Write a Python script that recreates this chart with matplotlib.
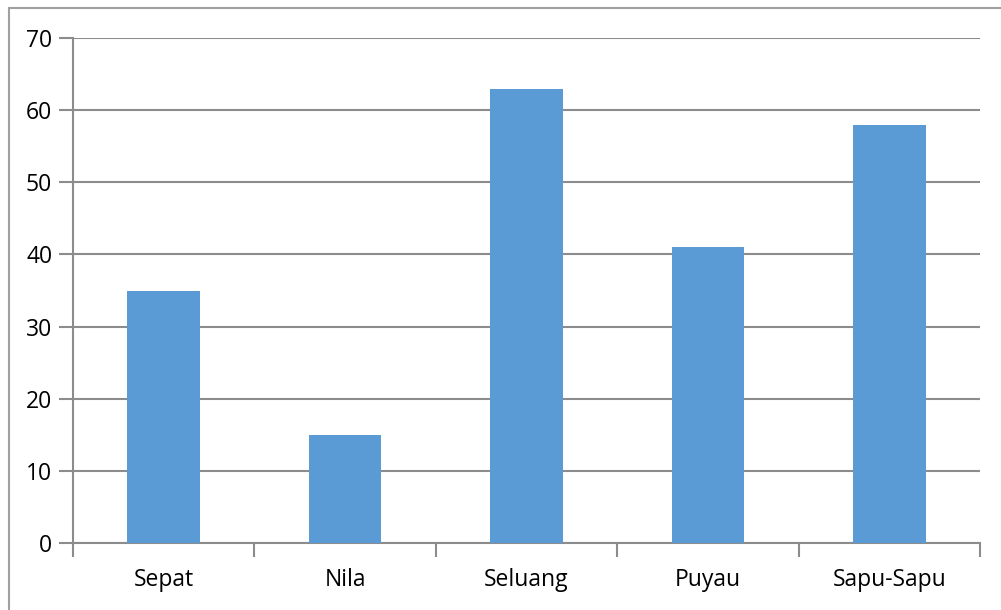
import matplotlib.pyplot as plt
from matplotlib.patches import Rectangle

categories = ["Sepat", "Nila", "Seluang", "Puyau", "Sapu-Sapu"]
values = [35, 15, 63, 41, 58]
yticks = [0, 10, 20, 30, 40, 50, 60, 70]

plt.rcParams['font.family'] = ['Open Sans', 'DejaVu Sans']

W, H = 1001, 610
fig = plt.figure(figsize=(W / 100, H / 100), dpi=100)
ax = fig.add_axes([73 / W, 1 - 543 / H, (980 - 73) / W, (543 - 38) / H])

grey = '#8c8c8c'
# outer chart border (runs off right and bottom edges)
fig.patches.append(Rectangle((9 / W, -0.05), 1.1, 1 - 8 / H + 0.05, transform=fig.transFigure,
                             fill=False, edgecolor='#a0a0a0', linewidth=1.5))

x = range(len(categories))
ax.bar(x, values, width=0.4, color='#5b9bd5', zorder=3)

ax.set_xlim(-0.5, len(categories) - 0.5)
ax.set_ylim(0, 70)
ax.set_yticks(yticks)
ax.set_xticks(list(x))
ax.set_xticklabels(categories)
ax.set_xticks([i - 0.5 for i in range(len(categories) + 1)], minor=True)

ax.grid(axis='y', color=grey, linewidth=1.5, zorder=0)
for s in ['top', 'right']:
    ax.spines[s].set_visible(False)
for s in ['left', 'bottom']:
    ax.spines[s].set_color(grey)
    ax.spines[s].set_linewidth(1.5)

ax.tick_params(axis='y', length=10, width=1.5, color=grey, labelsize=16.5, pad=5)
ax.tick_params(axis='x', which='major', length=0, labelsize=16.5, pad=18)
ax.tick_params(axis='x', which='minor', length=10, width=1.5, color=grey)

fig.savefig('out.png', dpi=100)
